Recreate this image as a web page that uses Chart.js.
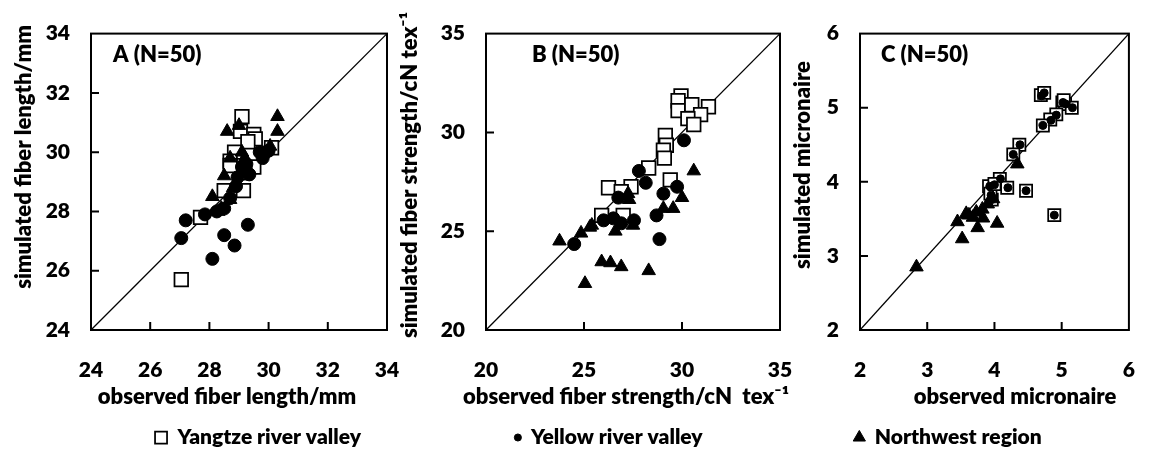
<!DOCTYPE html>
<html><head><meta charset="utf-8">
<script src="https://cdn.jsdelivr.net/npm/chart.js@4.4.1/dist/chart.umd.min.js"></script>
<style>
html,body{margin:0;padding:0;background:#fff;overflow:hidden;}
#wrap{position:relative;width:1163px;height:450px;overflow:hidden;background:#fff;}
#wrap canvas{position:absolute;top:0;}
</style></head><body>
<div id="wrap"></div>
<script>
// ---------------- data ----------------
const seriesNames = ['Yangtze river valley', 'Yellow river valley', 'Northwest region'];
const panelLabels = ['A (N=50)', 'B (N=50)', 'C (N=50)'];
const xTitles = ['observed fiber length/mm', 'observed fiber strength/cN  tex\u207B\u00B9', 'observed micronaire'];
const yTitles = ['simulated fiber length/mm', 'simulated fiber strength/cN tex\u207B\u00B9', 'simulated micronaire'];

const ticksLength   = [24, 26, 28, 30, 32, 34];
const ticksStrength = [20, 25, 30, 35];
const ticksMic      = [2, 3, 4, 5, 6];

// A: fiber length
const lenYangtzeObs = [29.1, 29.05, 29.5, 29.55, 29.3, 30.1, 28.85, 28.7, 28.7, 29.5, 28.5, 29.15, 27.7, 27.05, 29.2];
const lenYangtzeSim = [31.2, 30.7, 30.6, 30.45, 30.35, 30.15, 30.0, 29.7, 29.55, 29.5, 28.7, 28.7, 27.8, 25.7, 29.3];
const lenYellowObs  = [27.2, 27.05, 27.85, 28.1, 28.5, 28.85, 29.3, 28.25, 28.5, 28.7, 28.9, 28.95, 29.35, 29.25, 29.8, 29.9, 29.7, 30.0, 29.1];
const lenYellowSim  = [27.7, 27.1, 27.9, 26.4, 27.2, 26.85, 27.55, 28.0, 28.1, 28.45, 28.85, 29.15, 29.25, 29.6, 29.8, 30.0, 30.0, 30.05, 29.5];
const lenNorthObs   = [30.3, 30.3, 28.6, 29.0, 30.05, 28.7, 28.5, 28.1, 28.4, 28.7, 28.8, 29.2, 29.1, 28.3];
const lenNorthSim   = [31.2, 30.7, 30.7, 30.9, 30.2, 29.8, 29.2, 28.5, 28.1, 28.4, 28.8, 29.8, 30.0, 28.0];

// B: fiber strength
const strYangtzeObs = [29.95, 29.8, 29.8, 30.5, 31.35, 30.95, 30.3, 30.6, 29.15, 29.2, 29.05, 29.1, 28.3, 29.4, 26.25, 27.4, 26.9, 25.9, 27.0];
const strYangtzeSim = [31.85, 31.6, 31.1, 31.4, 31.3, 30.9, 30.7, 30.4, 29.85, 29.35, 29.1, 28.7, 28.2, 27.6, 27.2, 27.25, 27.0, 25.8, 25.8];
const strYellowObs  = [30.1, 27.8, 28.15, 29.05, 29.75, 26.75, 26.0, 26.5, 26.9, 27.55, 28.7, 28.85, 24.5];
const strYellowSim  = [29.6, 28.05, 27.45, 26.9, 27.25, 26.7, 25.55, 25.65, 25.4, 25.55, 25.8, 24.6, 24.35];
const strNorthObs   = [30.6, 30.0, 29.55, 29.05, 27.25, 27.3, 25.4, 24.85, 23.75, 26.6, 27.5, 25.9, 26.35, 26.9, 28.3, 25.05, 25.3];
const strNorthSim   = [28.05, 26.7, 26.15, 26.15, 26.9, 26.6, 25.3, 24.9, 24.5, 25.0, 25.3, 23.45, 23.4, 23.2, 23.0, 22.35, 25.2];

// C: micronaire
const micYangtzeObs = [4.69, 4.74, 5.01, 5.05, 5.15, 4.92, 4.83, 4.72, 4.37, 4.28, 4.08, 3.92, 4.19, 4.47, 3.96, 4.89, 3.94, 4.0, 5.03];
const micYangtzeSim = [5.17, 5.2, 5.07, 5.05, 5.0, 4.91, 4.84, 4.76, 4.5, 4.37, 4.04, 3.94, 3.92, 3.88, 3.76, 3.55, 3.84, 3.97, 5.1];
const micYellowObs  = [4.7, 4.74, 5.02, 5.06, 5.16, 4.92, 4.84, 4.72, 4.38, 4.28, 4.09, 3.93, 4.2, 4.47, 3.96, 4.89, 3.95, 4.0];
const micYellowSim  = [5.16, 5.2, 5.07, 5.05, 5.0, 4.9, 4.83, 4.76, 4.5, 4.37, 4.04, 3.94, 3.92, 3.88, 3.76, 3.55, 3.82, 3.96];
const micNorthObs   = [2.84, 3.45, 3.52, 3.58, 3.68, 3.75, 3.83, 4.04, 3.82, 3.9, 3.98, 4.34, 3.73, 3.62];
const micNorthSim   = [2.85, 3.46, 3.23, 3.57, 3.52, 3.38, 3.51, 3.44, 3.63, 3.7, 3.77, 4.24, 3.59, 3.55];

// ---------------- layout (page pixels) ----------------
const FONT = 'Lato, "Open Sans", sans-serif';
const WEIGHT = '800';
const CH_TOP = 20, CANVAS_H = 458, XAXIS_H = 87;
const panels = [
  { ticks: ticksLength, obs: [lenYangtzeObs, lenYellowObs, lenNorthObs], sim: [lenYangtzeSim, lenYellowSim, lenNorthSim],
    chartLeft: 91, chartRight: 387, yTitleX: 24, yTitleY: 157, xTitleX: 227, labelX: 113,
    markerX: 161, legendBox: 12, sq: 9.6, dot: 6.5, tri: 7.8 },
  { ticks: ticksStrength, obs: [strYangtzeObs, strYellowObs, strNorthObs], sim: [strYangtzeSim, strYellowSim, strNorthSim],
    chartLeft: 486, chartRight: 780, yTitleX: 410, yTitleY: 175, xTitleX: 626, labelX: 532,
    markerX: 518, legendBox: 5, sq: 9.6, dot: 6.5, tri: 7.8 },
  { ticks: ticksMic, obs: [micYangtzeObs, micYellowObs, micNorthObs], sim: [micYangtzeSim, micYellowSim, micNorthSim],
    chartLeft: 860, chartRight: 1153, yTitleX: 803, yTitleY: 165, xTitleX: 1015, labelX: 881,
    markerX: 859.5, legendBox: 10, sq: 8.6, dot: 4.0, tri: 7.8 }
];

const wrap = document.getElementById('wrap');

panels.forEach((p, i) => {
  const canvas = document.createElement('canvas');
  const mctx = canvas.getContext('2d');
  const legendFont = 21;
  mctx.font = WEIGHT + ' ' + legendFont + 'px ' + FONT;
  const tw = mctx.measureText(seriesNames[i]).width;
  const itemW = p.legendBox + legendFont / 2 + tw;
  const cx = (p.markerX - p.legendBox / 2) + itemW / 2;
  const leftBound = p.yTitleX - 16;
  const rightBound = Math.min(p.chartRight + 10, 1163);
  const h = Math.max(cx - leftBound, rightBound - cx);
  const L = Math.round(cx - h), W = Math.round(2 * h);
  canvas.width = W; canvas.height = CANVAS_H;
  canvas.style.left = L + 'px';
  canvas.style.width = W + 'px'; canvas.style.height = CANVAS_H + 'px';
  wrap.appendChild(canvas);

  const yW = p.chartLeft - L;
  const dummyW = (L + W) - p.chartRight;
  const t = p.ticks;
  const mn = t[0], mx = t[t.length - 1];

  const pts = (xs, ys) => xs.map((v, k) => ({ x: v, y: ys[k] }));
  const styles = [
    { pointStyle: 'rect', radius: p.sq, bg: '#ffffff', bw: 1.75 },
    { pointStyle: 'circle', radius: p.dot, bg: '#000000', bw: 1 },
    { pointStyle: 'triangle', radius: p.tri, bg: '#000000', bw: 1 }
  ];
  const datasets = styles.map((s, k) => ({
    label: seriesNames[k],
    data: pts(p.obs[k], p.sim[k]),
    pointStyle: s.pointStyle,
    pointRadius: s.radius,
    pointHoverRadius: s.radius,
    backgroundColor: s.bg,
    pointBackgroundColor: s.bg,
    borderColor: '#000000',
    pointBorderColor: '#000000',
    borderWidth: s.bw,
    pointBorderWidth: s.bw,
    order: 3 - k
  }));
  datasets.push({
    label: '1:1',
    data: [{ x: mn, y: mn }, { x: mx, y: mx }],
    showLine: true, pointRadius: 0, borderColor: '#000', borderWidth: 1.3, order: 5
  });

  const tickCfg = (pad) => ({
    color: '#000', padding: pad, autoSkip: false, maxRotation: 0,
    font: { size: 21, weight: WEIGHT, family: FONT }
  });

  const decor = {
    id: 'decor' + i,
    beforeDatasetsDraw(chart) {
      const { ctx, chartArea: a, scales } = chart;
      ctx.save();
      ctx.strokeStyle = '#000';
      ctx.lineWidth = 2;
      ctx.strokeRect(a.left, a.top, a.right - a.left, a.bottom - a.top);
      ctx.beginPath();
      t.slice(1, -1).forEach(v => {
        const px = scales.x.getPixelForValue(v);
        ctx.moveTo(px, a.bottom); ctx.lineTo(px, a.bottom - 8);
        const py = scales.y.getPixelForValue(v);
        ctx.moveTo(a.left, py); ctx.lineTo(a.left + 8, py);
      });
      ctx.stroke();
      ctx.restore();
    },
    afterDraw(chart) {
      const ctx = chart.ctx;
      ctx.save();
      ctx.fillStyle = '#000';
      ctx.font = WEIGHT + ' 22px ' + FONT;
      ctx.textBaseline = 'middle';
      ctx.textAlign = 'left';
      ctx.fillText(panelLabels[i], p.labelX - L, 55);
      ctx.textAlign = 'center';
      ctx.fillText(xTitles[i], p.xTitleX - L, 397);
      ctx.translate(p.yTitleX - L, p.yTitleY);
      ctx.rotate(-Math.PI / 2);
      ctx.fillText(yTitles[i], 0, 0);
      ctx.restore();
    }
  };

  new Chart(canvas, {
    type: 'scatter',
    data: { datasets },
    options: {
      responsive: false,
      animation: false,
      events: [],
      layout: { padding: { top: CH_TOP, left: 0, right: 0, bottom: 0 } },
      scales: {
        x: {
          type: 'linear', min: mn, max: mx,
          afterBuildTicks: s => { s.ticks = t.map(v => ({ value: v })); },
          ticks: tickCfg(28),
          grid: { display: false, drawTicks: false },
          border: { display: false },
          afterFit: s => { s.height = XAXIS_H; }
        },
        y: {
          type: 'linear', min: mn, max: mx,
          afterBuildTicks: s => { s.ticks = t.map(v => ({ value: v })); },
          ticks: tickCfg(21),
          grid: { display: false, drawTicks: false },
          border: { display: false },
          afterFit: s => { s.width = yW; }
        },
        y2: {
          type: 'linear', position: 'right', display: true, min: 0, max: 1,
          ticks: { display: false },
          grid: { display: false, drawTicks: false },
          border: { display: false },
          afterFit: s => { s.width = dummyW; }
        }
      },
      plugins: {
        tooltip: { enabled: false },
        legend: {
          position: 'bottom',
          labels: {
            usePointStyle: true,
            boxWidth: p.legendBox, boxHeight: p.legendBox,
            padding: 10, color: '#000',
            font: { size: legendFont, weight: WEIGHT, family: FONT },
            filter: item => item.datasetIndex === i
          }
        }
      }
    },
    plugins: [decor]
  });
});
</script>
</body></html>
